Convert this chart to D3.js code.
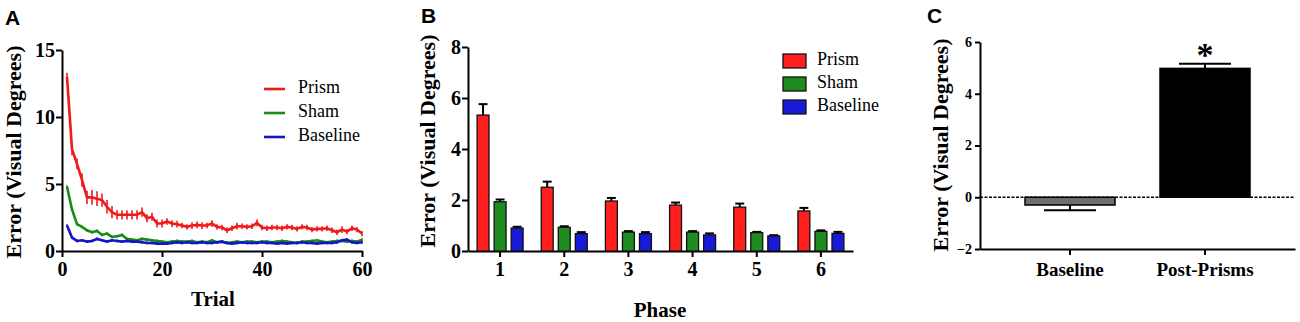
<!DOCTYPE html>
<html>
<head>
<meta charset="utf-8">
<script src="https://cdn.jsdelivr.net/npm/d3@7"></script>
<style>
  body { margin: 0; background: #fff; }
  svg { display: block; }
</style>
</head>
<body>
<div id="chart"></div>
<script>
// panel A: error per trial
const trials = d3.range(1, 61);
const prismMean = [13.0,7.6,6.5,5.3,4.0,4.0,3.9,3.8,3.3,2.9,
  2.7,2.7,2.7,2.7,2.7,2.9,2.45,2.55,2.05,2.05,
  2.2,2.05,2.0,1.9,1.8,1.9,1.95,1.9,1.9,2.05,
  1.8,1.75,1.55,1.7,1.85,1.85,1.8,1.85,2.1,1.75,
  1.7,1.75,1.75,1.7,1.8,1.75,1.65,1.8,1.75,1.6,
  1.65,1.65,1.7,1.55,1.4,1.6,1.45,1.7,1.6,1.3];
const prismSem = [0.3,0.45,0.4,0.5,0.5,0.55,0.55,0.5,0.5,0.45,
  0.35,0.35,0.35,0.35,0.35,0.35,0.3,0.3,0.3,0.3,
  0.25,0.25,0.25,0.2,0.2,0.25,0.25,0.25,0.2,0.25,
  0.2,0.2,0.2,0.2,0.25,0.2,0.2,0.2,0.25,0.2,
  0.2,0.2,0.2,0.2,0.2,0.2,0.2,0.2,0.2,0.2,
  0.2,0.2,0.2,0.2,0.2,0.25,0.2,0.2,0.2,0.2];
const shamMean = [4.8,3.1,2.0,1.8,1.55,1.4,1.5,1.2,1.3,1.05,
  1.1,1.2,0.9,0.85,0.8,0.9,0.85,0.8,0.75,0.7,
  0.65,0.7,0.75,0.7,0.7,0.75,0.65,0.7,0.65,0.8,
  0.65,0.7,0.6,0.65,0.7,0.65,0.7,0.7,0.65,0.7,
  0.7,0.65,0.7,0.75,0.7,0.65,0.6,0.7,0.7,0.75,
  0.8,0.7,0.65,0.7,0.75,0.75,0.7,0.75,0.7,0.85];
const baseMean = [1.9,1.0,0.75,0.8,0.7,0.75,0.9,0.8,0.7,0.8,
  0.75,0.7,0.75,0.7,0.7,0.65,0.6,0.6,0.55,0.55,
  0.55,0.6,0.65,0.6,0.65,0.6,0.6,0.65,0.6,0.6,
  0.65,0.7,0.6,0.55,0.6,0.65,0.6,0.6,0.6,0.65,
  0.6,0.6,0.55,0.6,0.55,0.6,0.6,0.65,0.6,0.6,
  0.55,0.6,0.6,0.6,0.65,0.8,0.85,0.65,0.6,0.65];
const smallSem = 0.1;

// panel B: error per phase
const phases = ["1", "2", "3", "4", "5", "6"];
const groups = ["Prism", "Sham", "Baseline"];
const phasePrism = [5.33, 2.5, 1.96, 1.8, 1.72, 1.57];
const phasePrismErr = [0.43, 0.22, 0.12, 0.1, 0.14, 0.12];
const phaseSham = [1.93, 0.93, 0.74, 0.74, 0.72, 0.77];
const phaseShamErr = [0.09, 0.04, 0.04, 0.04, 0.03, 0.04];
const phaseBase = [0.9, 0.68, 0.68, 0.63, 0.59, 0.69];
const phaseBaseErr = [0.05, 0.06, 0.06, 0.06, 0.03, 0.06];

// panel C: aftereffect
const conditions = ["Baseline", "Post-Prisms"];
const condMean = [-0.3, 4.98];
const condErr = [0.2, 0.18];

const colors = {Prism: "#f01a1a", Sham: "#178a17", Baseline: "#1515c8"};
const barColors = {Prism: "#ff1f1f", Sham: "#1f8c1f", Baseline: "#1a1ad6"};

const serif = "Liberation Serif, Times New Roman, serif";
const sans = "Liberation Sans, Arial, sans-serif";

const svg = d3.select("#chart").append("svg")
    .attr("width", 1300)
    .attr("height", 322);

function panelLetter(x, y, t) {
    svg.append("text")
        .attr("x", x).attr("y", y)
        .style("font-family", sans).style("font-weight", "bold")
        .style("font-size", "21px")
        .text(t);
}

function yTitle(x, y) {
    svg.append("text")
        .attr("transform", `translate(${x},${y}) rotate(-90)`)
        .attr("text-anchor", "middle")
        .style("font-family", serif).style("font-weight", "bold")
        .style("font-size", "22px")
        .text("Error (Visual Degrees)");
}

// axis lines thick, tick labels bold serif
function styleAxis(g, fs) {
    g.attr("font-family", serif).attr("font-size", fs).attr("font-weight", "bold");
    g.select(".domain").attr("stroke-width", 2);
    g.selectAll(".tick line").attr("stroke-width", 2);
    g.selectAll(".tick text")
        .attr("font-family", serif)
        .attr("font-weight", "bold")
        .style("font-family", serif)
        .style("font-weight", "bold")
        .style("font-size", fs + "px")
        .attr("fill", "#000");
}

// ---------- Panel A ----------
const xA = d3.scaleLinear().domain([0, 60]).range([62, 362]);
const yA = d3.scaleLinear().domain([0, 15]).range([251, 50]);

panelLetter(5, 25, "A");
yTitle(21, 152);

svg.append("g")
    .attr("transform", `translate(0,${yA(0)})`)
    .call(d3.axisBottom(xA).tickValues([0, 20, 40, 60]).tickSize(6).tickSizeOuter(0).tickPadding(5))
    .call(g => styleAxis(g, 20));

svg.append("g")
    .attr("transform", `translate(${xA(0)},0)`)
    .call(d3.axisLeft(yA).tickValues([0, 5, 10, 15]).tickSize(6).tickSizeOuter(0).tickPadding(1))
    .call(g => styleAxis(g, 20));

svg.append("text")
    .attr("x", 213).attr("y", 306)
    .attr("text-anchor", "middle")
    .style("font-family", serif).style("font-weight", "bold").style("font-size", "21px")
    .text("Trial");

const seriesA = [
    {key: "Sham", mean: shamMean, sem: null},
    {key: "Baseline", mean: baseMean, sem: null},
    {key: "Prism", mean: prismMean, sem: prismSem}
];

const lineA = d3.line()
    .x((d, i) => xA(trials[i]))
    .y(d => yA(d));

seriesA.forEach(s => {
    const sem = s.sem || trials.map(() => smallSem);
    svg.append("g")
        .selectAll("line")
        .data(s.mean)
        .join("line")
        .attr("x1", (d, i) => xA(trials[i]))
        .attr("x2", (d, i) => xA(trials[i]))
        .attr("y1", (d, i) => yA(d - sem[i]))
        .attr("y2", (d, i) => yA(d + sem[i]))
        .attr("stroke", colors[s.key])
        .attr("stroke-width", 1.6);

    svg.append("path")
        .datum(s.mean)
        .attr("d", lineA)
        .attr("fill", "none")
        .attr("stroke", colors[s.key])
        .attr("stroke-width", 2.6);
});

// legend A
groups.forEach((g, i) => {
    const yy = 89 + i * 24;
    svg.append("line")
        .attr("x1", 264).attr("x2", 285)
        .attr("y1", yy).attr("y2", yy)
        .attr("stroke", colors[g]).attr("stroke-width", 2.6);
    svg.append("text")
        .attr("x", 298).attr("y", yy)
        .attr("dominant-baseline", "middle")
        .style("font-family", serif).style("font-size", "18px")
        .text(g);
});

// ---------- Panel B ----------
const xB = d3.scaleBand().domain(phases).range([468, 853]);
const xBsub = d3.scaleBand().domain(groups).range([-23, 23]).paddingInner(0.3);
const yB = d3.scaleLinear().domain([0, 8]).range([251, 47]);

panelLetter(421, 23, "B");
yTitle(435, 141);

svg.append("g")
    .attr("transform", `translate(0,${yB(0)})`)
    .call(d3.axisBottom(xB).tickSize(6).tickSizeOuter(0).tickPadding(5))
    .call(g => styleAxis(g, 20));

svg.append("g")
    .attr("transform", `translate(${xB.range()[0]},0)`)
    .call(d3.axisLeft(yB).tickValues([0, 2, 4, 6, 8]).tickSize(6).tickSizeOuter(0).tickPadding(1))
    .call(g => styleAxis(g, 20));

svg.append("text")
    .attr("x", 660).attr("y", 317)
    .attr("text-anchor", "middle")
    .style("font-family", serif).style("font-weight", "bold").style("font-size", "21px")
    .text("Phase");

const phaseData = {
    Prism: [phasePrism, phasePrismErr],
    Sham: [phaseSham, phaseShamErr],
    Baseline: [phaseBase, phaseBaseErr]
};

const barsB = [];
phases.forEach((p, i) => {
    groups.forEach(g => {
        barsB.push({phase: p, key: g, value: phaseData[g][0][i], err: phaseData[g][1][i]});
    });
});

const cx = d => xB(d.phase) + xB.bandwidth() / 2 + xBsub(d.key);

svg.append("g").selectAll("line")
    .data(barsB)
    .join("line")
    .attr("x1", d => cx(d) + xBsub.bandwidth() / 2)
    .attr("x2", d => cx(d) + xBsub.bandwidth() / 2)
    .attr("y1", d => yB(d.value))
    .attr("y2", d => yB(d.value + d.err))
    .attr("stroke", "#000").attr("stroke-width", 2);

svg.append("g").selectAll("line")
    .data(barsB)
    .join("line")
    .attr("x1", d => cx(d) + 1.5)
    .attr("x2", d => cx(d) + xBsub.bandwidth() - 1.5)
    .attr("y1", d => yB(d.value + d.err))
    .attr("y2", d => yB(d.value + d.err))
    .attr("stroke", "#000").attr("stroke-width", 2);

svg.append("g").selectAll("rect")
    .data(barsB)
    .join("rect")
    .attr("x", d => cx(d))
    .attr("y", d => yB(d.value))
    .attr("width", xBsub.bandwidth())
    .attr("height", d => yB(0) - yB(d.value))
    .attr("fill", d => barColors[d.key])
    .attr("stroke", "#111").attr("stroke-width", 1.3);

// legend B
groups.forEach((g, i) => {
    const yy = 54 + i * 23;
    svg.append("rect")
        .attr("x", 783).attr("y", yy)
        .attr("width", 23).attr("height", 14)
        .attr("fill", barColors[g])
        .attr("stroke", "#111").attr("stroke-width", 1.3);
    svg.append("text")
        .attr("x", 817).attr("y", yy + 7)
        .attr("dominant-baseline", "middle")
        .style("font-family", serif).style("font-size", "18px")
        .text(g);
});

// ---------- Panel C ----------
const xC = d3.scaleBand().domain(conditions).range([980, 1295]).padding(1 / 3);
const yC = d3.scaleLinear().domain([-2, 6]).range([249, 42]);

panelLetter(927, 23, "C");
yTitle(948, 145);

svg.append("g")
    .attr("transform", `translate(0,${yC(-2)})`)
    .call(d3.axisBottom(xC).tickSize(6).tickSizeOuter(0).tickPadding(8))
    .call(g => styleAxis(g, 19));

svg.append("g")
    .attr("transform", `translate(${xC.range()[0]},0)`)
    .call(d3.axisLeft(yC).tickValues([-2, 0, 2, 4, 6]).tickSize(5).tickSizeOuter(0).tickPadding(3))
    .call(g => styleAxis(g, 14));

// zero reference line
svg.append("line")
    .attr("x1", xC.range()[0]).attr("x2", xC.range()[1])
    .attr("y1", yC(0)).attr("y2", yC(0))
    .attr("stroke", "#000").attr("stroke-width", 1.5)
    .attr("stroke-dasharray", "3,1.5");

const barsC = conditions.map((c, i) => ({key: c, value: condMean[i], err: condErr[i]}));
const barFillC = ["#6e6e6e", "#000"];

svg.append("g").selectAll("rect")
    .data(barsC)
    .join("rect")
    .attr("x", d => xC(d.key))
    .attr("y", d => yC(Math.max(0, d.value)))
    .attr("width", xC.bandwidth())
    .attr("height", d => Math.abs(yC(d.value) - yC(0)))
    .attr("fill", (d, i) => barFillC[i])
    .attr("stroke", "#000").attr("stroke-width", 1.5);

const errEnd = d => d.value < 0 ? d.value - d.err : d.value + d.err;
const midC = d => xC(d.key) + xC.bandwidth() / 2;

svg.append("g").selectAll("line")
    .data(barsC)
    .join("line")
    .attr("x1", midC).attr("x2", midC)
    .attr("y1", d => yC(d.value)).attr("y2", d => yC(errEnd(d)))
    .attr("stroke", "#000").attr("stroke-width", 2);

svg.append("g").selectAll("line")
    .data(barsC)
    .join("line")
    .attr("x1", d => midC(d) - 26).attr("x2", d => midC(d) + 26)
    .attr("y1", d => yC(errEnd(d))).attr("y2", d => yC(errEnd(d)))
    .attr("stroke", "#000").attr("stroke-width", 2);

svg.append("text")
    .attr("x", midC(barsC[1]))
    .attr("y", yC(errEnd(barsC[1])) + 2)
    .attr("text-anchor", "middle")
    .style("font-family", serif).style("font-weight", "bold").style("font-size", "34px")
    .text("*");
</script>
</body>
</html>
